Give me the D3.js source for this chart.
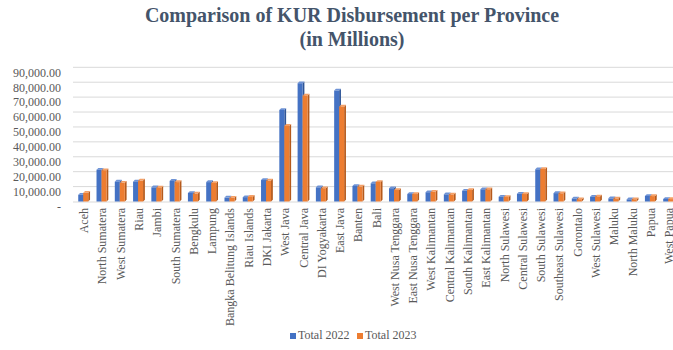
<!DOCTYPE html>
<html>
<head>
<meta charset="utf-8">
<script src="https://cdn.jsdelivr.net/npm/d3@7"></script>
<style>
  body { margin: 0; background: #fff; }
  svg { font-family: "Liberation Serif", "DejaVu Serif", serif; }
</style>
</head>
<body>
<div id="chart"></div>
<script>
// Data (millions)
const provinces = ["Aceh", "North Sumatera", "West Sumatera", "Riau", "Jambi", "South Sumatera",
  "Bengkulu", "Lampung", "Bangka Belitung Islands", "Riau Islands", "DKI Jakarta", "West Java",
  "Central Java", "DI Yogyakarta", "East Java", "Banten", "Bali", "West Nusa Tenggara",
  "East Nusa Tenggara", "West Kalimantan", "Central Kalimantan", "South Kalimantan",
  "East Kalimantan", "North Sulawesi", "Central Sulawesi", "South Sulawesi", "Southeast Sulawesi",
  "Gorontalo", "West Sulawesi", "Maluku", "North Maluku", "Papua", "West Papua"];
const total2022 = [4500, 21300, 13300, 13300, 9500, 13800, 5700, 13000, 2600, 2900, 14400, 61400,
  79300, 9500, 74400, 10400, 12200, 8900, 5000, 6200, 4800, 7200, 8200, 3200, 5200, 21600, 5600,
  2000, 3200, 2100, 1400, 3700, 1700];
const total2023 = [5800, 21000, 12500, 14000, 9300, 13000, 5300, 12400, 2500, 3100, 14000, 50700,
  71000, 8900, 63600, 10000, 13100, 7700, 5000, 6500, 4700, 7700, 8200, 3000, 5000, 21800, 5500,
  1500, 3400, 2000, 1500, 3600, 1600];
const yTicks = [0, 10000, 20000, 30000, 40000, 50000, 60000, 70000, 80000, 90000];
const seriesNames = ["Total 2022", "Total 2023"];

const W = 673, H = 350;
const svg = d3.select('#chart').append('svg')
    .attr('width', W)
    .attr('height', H);

// Title
svg.append('text')
    .attr('x', 352).attr('y', 22)
    .attr('text-anchor', 'middle')
    .attr('font-size', 20).attr('font-weight', 'bold')
    .attr('fill', '#44546A')
    .text('Comparison of KUR Disbursement per Province');
svg.append('text')
    .attr('x', 352).attr('y', 46)
    .attr('text-anchor', 'middle')
    .attr('font-size', 20).attr('font-weight', 'bold')
    .attr('fill', '#44546A')
    .text('(in Millions)');

// Scales
const x = d3.scaleBand()
    .domain(provinces)
    .range([75, 75 + provinces.length * 18.28]);
const y = d3.scaleLinear()
    .domain([0, 90000])
    .range([201.5, 67.3]);

// Gridlines
svg.append('g')
    .selectAll('line')
    .data(yTicks.slice(1))
    .join('line')
    .attr('x1', 73).attr('x2', W)
    .attr('y1', d => y(d)).attr('y2', d => y(d))
    .attr('stroke', '#d9d9d9')
    .attr('stroke-width', 1);
svg.append('line')
    .attr('x1', 73).attr('x2', W)
    .attr('y1', y(0) + 0.5).attr('y2', y(0) + 0.5)
    .attr('stroke', '#d9d9d9');

// Y axis labels
const yAxis = svg.append('g')
    .attr('transform', 'translate(61, 5)')
    .call(d3.axisLeft(y).tickValues(yTicks).tickSize(0).tickPadding(0)
        .tickFormat(d => d === 0 ? '-   ' : d3.format(',.2f')(d)));
yAxis.select('.domain').remove();
yAxis.selectAll('text')
    .attr('font-family', '"Liberation Serif", serif')
    .attr('font-size', 12)
    .attr('fill', '#595959');

// Bars with a small 3D side and top face
const colors = [
  { front: '#4472C4', side: '#2F5597', top: '#6E93D6' },
  { front: '#ED7D31', side: '#B55A1C', top: '#F4A067' }
];
const barW = 5, depth = 1.8;
const series = [total2022, total2023];
series.forEach((vals, s) => {
  const g = svg.append('g');
  const c = colors[s];
  const bx = (i) => x(provinces[i]) + x.bandwidth() / 2 - barW - depth / 2 + s * barW;
  const data = vals.map((v, i) => ({ v, i }));
  // side face
  g.selectAll('.side')
    .data(data)
    .join('path')
    .attr('class', 'side')
    .attr('d', d => {
      const x0 = bx(d.i) + barW, yt = y(d.v), yb = y(0);
      return `M${x0},${yt}L${x0 + depth},${yt - depth}L${x0 + depth},${yb - depth}L${x0},${yb}Z`;
    })
    .attr('fill', c.side);
  // top face
  g.selectAll('.top')
    .data(data)
    .join('path')
    .attr('class', 'top')
    .attr('d', d => {
      const x0 = bx(d.i), yt = y(d.v);
      return `M${x0},${yt}L${x0 + depth},${yt - depth}L${x0 + barW + depth},${yt - depth}L${x0 + barW},${yt}Z`;
    })
    .attr('fill', c.top);
  // front face
  g.selectAll('.front')
    .data(data)
    .join('rect')
    .attr('class', 'front')
    .attr('x', d => bx(d.i))
    .attr('y', d => y(d.v))
    .attr('width', barW)
    .attr('height', d => y(0) - y(d.v))
    .attr('fill', c.front);
});

// X axis labels (rotated)
svg.append('g')
    .selectAll('text')
    .data(provinces)
    .join('text')
    .attr('transform', d => `translate(${x(d) + x.bandwidth() / 2 + 4}, 208) rotate(-90)`)
    .attr('text-anchor', 'end')
    .attr('font-size', 12)
    .attr('fill', '#595959')
    .text(d => d);

// Legend
const legend = svg.append('g').attr('transform', 'translate(290, 339)');
seriesNames.forEach((name, i) => {
  const lx = i * 67;
  legend.append('rect')
      .attr('x', lx).attr('y', -6)
      .attr('width', 6).attr('height', 6)
      .attr('fill', colors[i].front);
  legend.append('text')
      .attr('x', lx + 8).attr('y', 0)
      .attr('font-size', 12)
      .attr('fill', '#595959')
      .text(name);
});
</script>
</body>
</html>
